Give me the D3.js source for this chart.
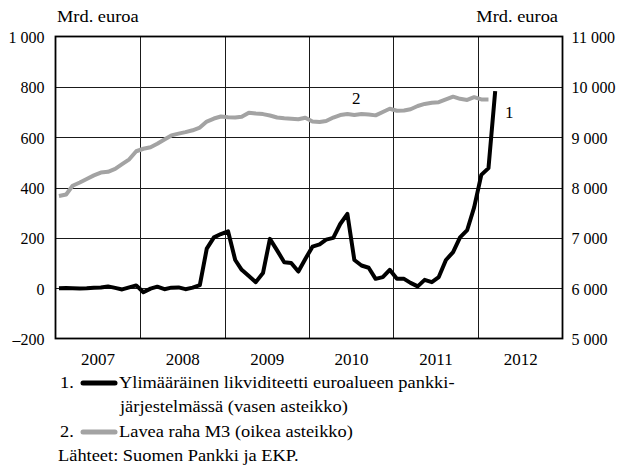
<!DOCTYPE html>
<html>
<head>
<meta charset="utf-8">
<script src="https://cdn.jsdelivr.net/npm/d3@7"></script>
<style>
  html, body { margin: 0; padding: 0; background: #fff; }
  svg { display: block; }
  text { font-family: "Liberation Serif", "Times New Roman", serif; fill: #000; }
</style>
</head>
<body>
<svg id="chart" width="620" height="468"></svg>
<script>
// ---- Data ----
const firstMonth = new Date(2007, 0, 1);
// Excess liquidity in euro area banking system, bn EUR (left scale), Jan 2007 – Mar 2012
const excessLiquidity = [
  0, 1, 0, -1, 0, 2, 3, 7, 1, -5, 3, 11,
  -16, -2, 6, -4, 2, 3, -4, 2, 12, 157, 202, 215,
  226, 112, 73, 48, 24, 60, 196, 150, 103, 100, 66, 116,
  165, 174, 193, 200, 255, 295, 112, 90, 81, 37, 44, 73,
  37, 37, 21, 7, 33, 24, 44, 112, 143, 202, 231, 321,
  450, 477, 783
];
// Broad money M3, bn EUR (right scale), Jan 2007 – Feb 2012
const m3 = [
  7830, 7860, 8034, 8100, 8170, 8240, 8297, 8311, 8370, 8465, 8560, 8720,
  8770, 8800, 8870, 8955, 9035, 9070, 9100, 9137, 9190, 9310, 9370, 9410,
  9395, 9390, 9405, 9485, 9470, 9458, 9430, 9390, 9375, 9365, 9355, 9385,
  9310, 9300, 9320, 9390, 9440, 9460, 9440, 9460, 9450, 9433, 9500, 9564,
  9525, 9530, 9555, 9620, 9660, 9685, 9695, 9750, 9805, 9762, 9740, 9795,
  9750, 9750
];
const leftTicks = [-200, 0, 200, 400, 600, 800, 1000];
const leftTickLabels = ["\u2013200", "0", "200", "400", "600", "800", "1 000"];
const rightTicks = [5000, 6000, 7000, 8000, 9000, 10000, 11000];
const rightTickLabels = ["5 000", "6 000", "7 000", "8 000", "9 000", "10 000", "11 000"];
const years = [2007, 2008, 2009, 2010, 2011, 2012];
const axisTitle = "Mrd. euroa";
const legendItems = [
  { num: "1.", lines: ["Ylimääräinen likviditeetti euroalueen pankki-", "järjestelmässä (vasen asteikko)"], color: "#000000" },
  { num: "2.", lines: ["Lavea raha M3 (oikea asteikko)"], color: "#a3a3a3" }
];
const sourceText = "Lähteet: Suomen Pankki ja EKP.";

// ---- Layout ----
const svg = d3.select("#chart");
const L = 55.5, R = 562.5, T = 36.5, B = 338.5;

const x = d3.scaleTime()
  .domain([new Date(2007, 0, 1), new Date(2013, 0, 1)])
  .range([L, R]);
const yL = d3.scaleLinear().domain([-200, 1000]).range([B, T]);
const yR = d3.scaleLinear().domain([5000, 11000]).range([B, T]);

const midMonth = i => { const d = d3.timeMonth.offset(firstMonth, i); return new Date(d.getFullYear(), d.getMonth(), 16); };

// gridlines
const grid = svg.append("g");
grid.selectAll("line.h").data(leftTicks.slice(1, -1)).join("line")
  .attr("x1", L).attr("x2", R)
  .attr("y1", d => Math.round(yL(d)) + 0.5).attr("y2", d => Math.round(yL(d)) + 0.5)
  .attr("stroke", "#1a1a1a").attr("stroke-width", 1);
grid.selectAll("line.v").data(years.slice(1)).join("line")
  .attr("x1", d => Math.round(x(new Date(d, 0, 1))) + 0.5)
  .attr("x2", d => Math.round(x(new Date(d, 0, 1))) + 0.5)
  .attr("y1", T).attr("y2", B)
  .attr("stroke", "#1a1a1a").attr("stroke-width", 1);

// lines
const m3Line = d3.line().x((d, i) => x(midMonth(i))).y(d => yR(d)).curve(d3.curveLinear);
const elLine = d3.line().x((d, i) => x(midMonth(i))).y(d => yL(d)).curve(d3.curveLinear);

svg.append("path").datum(m3)
  .attr("d", m3Line).attr("fill", "none")
  .attr("stroke", legendItems[1].color).attr("stroke-width", 4)
  .attr("stroke-linejoin", "round");
svg.append("path").datum(excessLiquidity)
  .attr("d", elLine).attr("fill", "none")
  .attr("stroke", legendItems[0].color).attr("stroke-width", 4)
  .attr("stroke-linejoin", "round");

// frame
svg.append("rect").attr("x", L).attr("y", T).attr("width", R - L).attr("height", B - T)
  .attr("fill", "none").attr("stroke", "#000").attr("stroke-width", 1.8);

// axes (labels only)
const axL = d3.axisLeft(yL).tickValues(leftTicks).tickSize(0).tickPadding(11)
  .tickFormat((d, i) => leftTickLabels[i]);
const gL = svg.append("g").attr("transform", `translate(${L},1)`).call(axL);
gL.select(".domain").remove();
gL.selectAll("text").style("font-family", '"Liberation Serif", serif').style("font-size", "16px").attr("fill", "#000");

const axR = d3.axisRight(yR).tickValues(rightTicks).tickSize(0).tickPadding(9)
  .tickFormat((d, i) => rightTickLabels[i]);
const gR = svg.append("g").attr("transform", `translate(${R},1)`).call(axR);
gR.select(".domain").remove();
gR.selectAll("text").style("font-family", '"Liberation Serif", serif').style("font-size", "16px").attr("fill", "#000");

const axB = d3.axisBottom(x).tickValues(years.map(y => new Date(y, 6, 2))).tickSize(0).tickPadding(14)
  .tickFormat(d3.timeFormat("%Y"));
const gB = svg.append("g").attr("transform", `translate(0,${B})`).call(axB);
gB.select(".domain").remove();
gB.selectAll("text").style("font-family", '"Liberation Serif", serif').style("font-size", "17px").attr("fill", "#000");

// stretched text helper
const SX = 1.15;
function stext(tx, ty, str, anchor, size) {
  svg.append("text")
    .attr("transform", `translate(${tx},${ty}) scale(${SX},1)`)
    .attr("text-anchor", anchor || "start")
    .style("font-size", (size || 16) + "px")
    .text(str);
}

// axis titles
stext(57, 22, axisTitle, "start");
stext(558, 22, axisTitle, "end");

// series labels
svg.append("text").attr("x", x(midMonth(42)) + 2).attr("y", 104).attr("text-anchor", "middle")
  .style("font-size", "17px").text("2");
svg.append("text").attr("x", x(midMonth(62)) + 14).attr("y", 118).attr("text-anchor", "middle")
  .style("font-size", "17px").text("1");

// legend
const legRows = [388, 412, 437];
stext(60, legRows[0], legendItems[0].num);
svg.append("line").attr("x1", 83).attr("x2", 115).attr("y1", legRows[0] - 5).attr("y2", legRows[0] - 5)
  .attr("stroke", legendItems[0].color).attr("stroke-width", 5).attr("stroke-linecap", "round");
stext(119, legRows[0], legendItems[0].lines[0]);
stext(120, legRows[1], legendItems[0].lines[1]);
stext(60, legRows[2], legendItems[1].num);
svg.append("line").attr("x1", 83).attr("x2", 115).attr("y1", legRows[2] - 5).attr("y2", legRows[2] - 5)
  .attr("stroke", legendItems[1].color).attr("stroke-width", 5).attr("stroke-linecap", "round");
stext(119, legRows[2], legendItems[1].lines[0]);
stext(58, 461, sourceText);
</script>
</body>
</html>
